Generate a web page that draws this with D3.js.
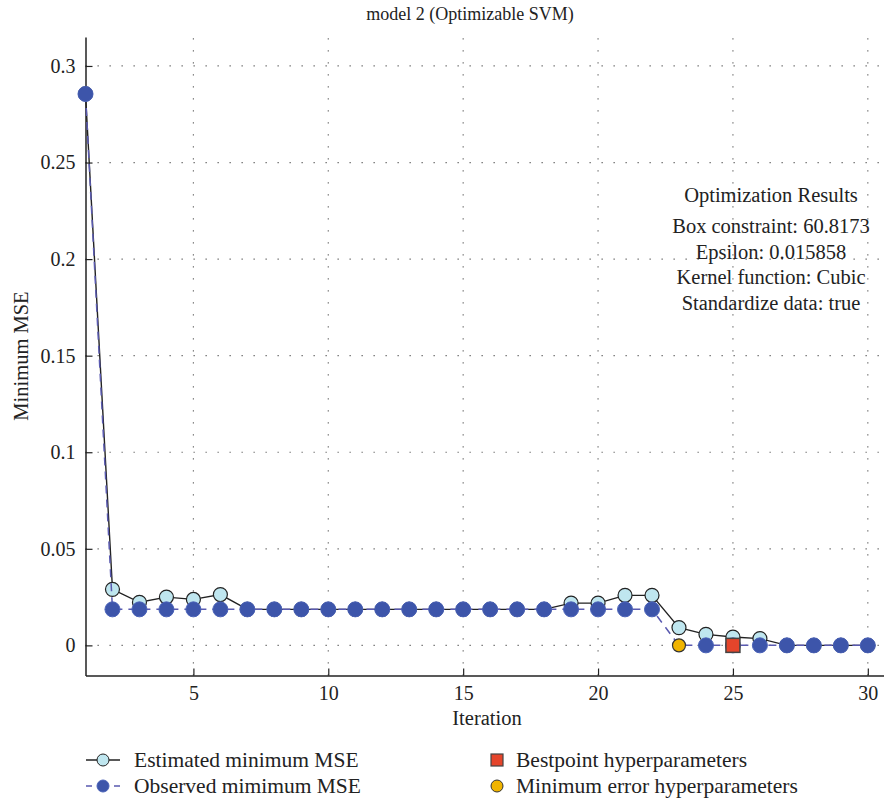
<!DOCTYPE html>
<html>
<head>
    <title>Optimizable SVM</title>
    <script src="https://d3js.org/d3.v7.min.js"></script>
    <style>
        body { margin: 0; background: #fff; }
        svg text { font-family: "Liberation Serif", "DejaVu Serif", serif; fill: #222; }
    </style>
</head>
<body>
    <svg id="chart"></svg>

    <script>
        // Chart data
        const iterations = d3.range(1, 31);
        const estimatedMSE = [0.2855, 0.029, 0.0223, 0.025, 0.0238, 0.0263, 0.01865, 0.01865, 0.01865, 0.01865,
            0.01865, 0.01865, 0.01865, 0.01865, 0.01865, 0.01865, 0.01865, 0.01865, 0.0219, 0.0219,
            0.0259, 0.0259, 0.0092, 0.0057, 0.0043, 0.0035, 0, 0, 0, 0];
        const observedMSE = [0.2855, 0.01865, 0.01865, 0.01865, 0.01865, 0.01865, 0.01865, 0.01865, 0.01865, 0.01865,
            0.01865, 0.01865, 0.01865, 0.01865, 0.01865, 0.01865, 0.01865, 0.01865, 0.01865, 0.01865,
            0.01865, 0.01865, 0, 0, 0, 0, 0, 0, 0, 0];
        const bestpointIter = 25;
        const minErrorIter = 23;
        const xTicks = [5, 10, 15, 20, 25, 30];
        const yTicks = [0, 0.05, 0.1, 0.15, 0.2, 0.25, 0.3];
        const resultLines = ["Optimization Results", "Box constraint: 60.8173", "Epsilon: 0.015858",
            "Kernel function: Cubic", "Standardize data: true"];

        let width = 884, height = 801;
        const svg = d3.select("#chart")
            .attr("width", width)
            .attr("height", height);

        // plot area
        const plotLeft = 85.5, plotRight = 884, plotTop = 37, plotBottom = 675.5;
        const x = d3.scaleLinear().domain([1, 30.6]).range([plotLeft, plotRight]);
        const y = d3.scaleLinear().domain([-0.0156, 0.315]).range([plotBottom, plotTop]);

        // dotted grid
        const grid = svg.append("g").attr("stroke", "#666").attr("stroke-width", 1.2)
            .attr("stroke-dasharray", "1.3,10.7");
        grid.selectAll(".gx").data(xTicks).join("line")
            .attr("x1", d => x(d)).attr("x2", d => x(d))
            .attr("y1", plotBottom).attr("y2", plotTop);
        grid.selectAll(".gy").data(yTicks).join("line")
            .attr("x1", plotLeft).attr("x2", plotRight)
            .attr("y1", d => y(d)).attr("y2", d => y(d));

        // axes, ticks pointing inwards
        const xAxis = svg.append("g")
            .attr("transform", `translate(0,${plotBottom})`)
            .call(d3.axisBottom(x).tickValues(xTicks).tickSizeInner(-7).tickSizeOuter(0).tickPadding(10));
        const yAxis = svg.append("g")
            .attr("transform", `translate(${plotLeft},0)`)
            .call(d3.axisLeft(y).tickValues(yTicks).tickSizeInner(-7).tickSizeOuter(0).tickPadding(10)
                .tickFormat(d => d === 0 ? "0" : String(+d.toFixed(2))));
        [xAxis, yAxis].forEach(a => {
            a.select(".domain").attr("stroke", "#222").attr("stroke-width", 1.5);
            a.selectAll(".tick line").attr("stroke", "#222").attr("stroke-width", 1.2);
            a.selectAll(".tick text").style("font-size", "20px")
                .style("font-family", '"Liberation Serif", serif').attr("fill", "#222");
        });

        // titles
        svg.append("text").attr("x", 470).attr("y", 20).attr("text-anchor", "middle")
            .style("font-size", "18px").text("model 2 (Optimizable SVM)");
        svg.append("text").attr("x", 487).attr("y", 725).attr("text-anchor", "middle")
            .style("font-size", "20.5px").text("Iteration");
        svg.append("text").attr("transform", "translate(28,356) rotate(-90)").attr("text-anchor", "middle")
            .style("font-size", "20.5px").text("Minimum MSE");

        // results box text
        svg.append("g").selectAll("text").data(resultLines).join("text")
            .attr("x", 771).attr("y", (d, i) => i === 0 ? 202 : 233 + (i - 1) * 25.5)
            .attr("text-anchor", "middle").style("font-size", "20.5px").text(d => d);

        const est = iterations.map((it, i) => ({ it, v: estimatedMSE[i] }));
        const obs = iterations.map((it, i) => ({ it, v: observedMSE[i] }));
        const line = d3.line().x(d => x(d.it)).y(d => y(d.v));

        // estimated series
        svg.append("path").datum(est).attr("d", line)
            .attr("fill", "none").attr("stroke", "#222").attr("stroke-width", 1.4);
        svg.append("g").selectAll("circle").data(est).join("circle")
            .attr("cx", d => x(d.it)).attr("cy", d => y(d.v)).attr("r", 7)
            .attr("fill", "#bfe6ef").attr("stroke", "#222").attr("stroke-width", 1.2);

        // observed series
        svg.append("path").datum(obs).attr("d", line)
            .attr("fill", "none").attr("stroke", "#5a5ab0").attr("stroke-width", 1.5)
            .attr("stroke-dasharray", "8,6");
        svg.append("g").selectAll("circle").data(obs.filter(d => d.it !== minErrorIter)).join("circle")
            .attr("cx", d => x(d.it)).attr("cy", d => y(d.v)).attr("r", 7.5)
            .attr("fill", "#3d55aa").attr("stroke", "#4a62b8").attr("stroke-width", 1);

        // special points
        const best = obs.find(d => d.it === bestpointIter);
        svg.append("rect")
            .attr("x", x(best.it) - 7).attr("y", y(best.v) - 7).attr("width", 14).attr("height", 14)
            .attr("fill", "#e5452b").attr("stroke", "#444").attr("stroke-width", 1.5);
        const minErr = obs.find(d => d.it === minErrorIter);
        svg.append("circle").attr("cx", x(minErr.it)).attr("cy", y(minErr.v)).attr("r", 6.5)
            .attr("fill", "#f0b400").attr("stroke", "#333").attr("stroke-width", 1.2);

        // legend
        const legend = svg.append("g");
        const l1 = legend.append("g").attr("transform", "translate(0,760)");
        l1.append("line").attr("x1", 86).attr("x2", 120).attr("stroke", "#222").attr("stroke-width", 1.4);
        l1.append("circle").attr("cx", 103).attr("r", 6).attr("fill", "#bfe6ef").attr("stroke", "#222");
        l1.append("text").attr("x", 134).attr("y", 7).style("font-size", "21.5px").text("Estimated minimum MSE");

        const l2 = legend.append("g").attr("transform", "translate(0,786)");
        l2.append("line").attr("x1", 86).attr("x2", 120).attr("stroke", "#5a5ab0").attr("stroke-width", 1.4)
            .attr("stroke-dasharray", "6,8");
        l2.append("circle").attr("cx", 103).attr("r", 6).attr("fill", "#3d55aa").attr("stroke", "#4a62b8");
        l2.append("text").attr("x", 134).attr("y", 7).style("font-size", "21.5px").text("Observed mimimum MSE");

        const l3 = legend.append("g").attr("transform", "translate(0,760)");
        l3.append("rect").attr("x", 491).attr("y", -6).attr("width", 12).attr("height", 12)
            .attr("fill", "#e5452b").attr("stroke", "#444").attr("stroke-width", 1.2);
        l3.append("text").attr("x", 516).attr("y", 7).style("font-size", "21.5px").text("Bestpoint hyperparameters");

        const l4 = legend.append("g").attr("transform", "translate(0,786)");
        l4.append("circle").attr("cx", 497).attr("r", 6).attr("fill", "#f0b400").attr("stroke", "#333");
        l4.append("text").attr("x", 516).attr("y", 7).style("font-size", "21.5px").text("Minimum error hyperparameters");
    </script>
</body>
</html>
